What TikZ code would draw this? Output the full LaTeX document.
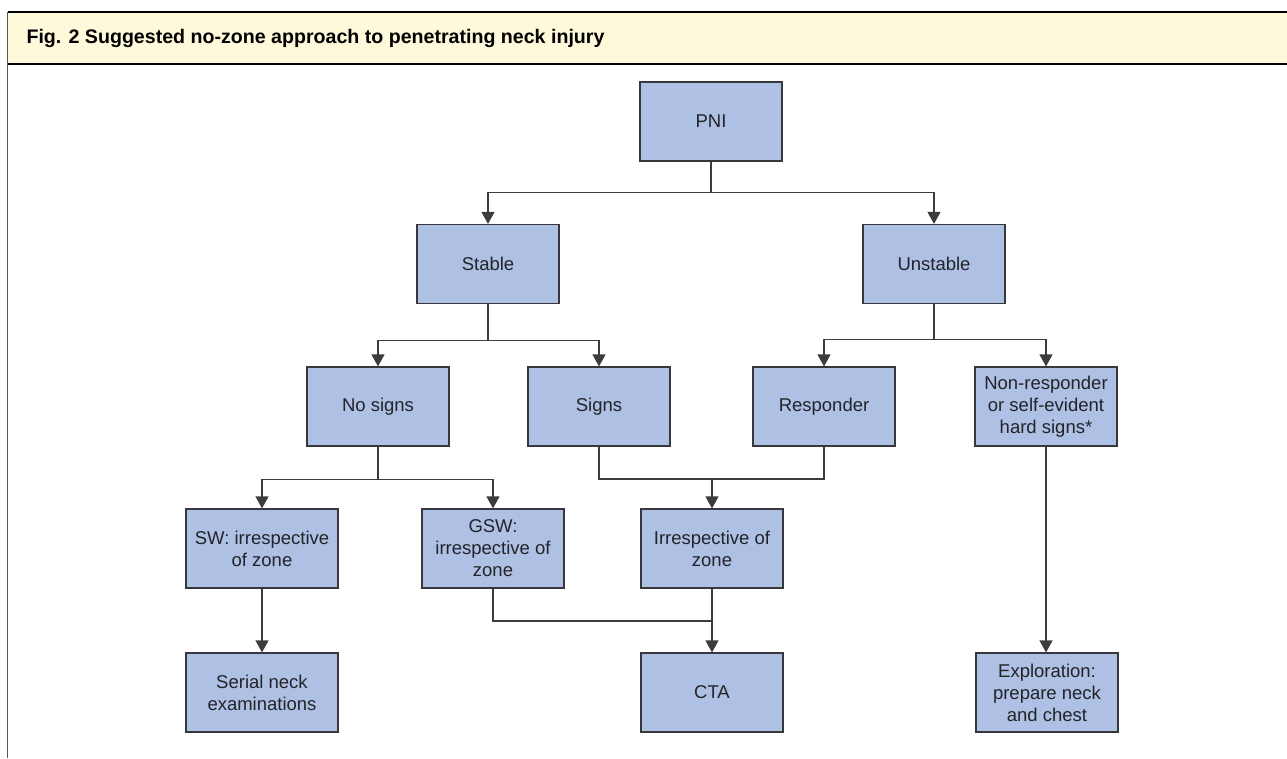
\documentclass[tikz,border=0pt]{standalone}
\usepackage{fontspec}
\setmainfont{Liberation Sans}
\usepackage{tikz}
\usetikzlibrary{arrows.meta,positioning,calc}
\definecolor{boxblue}{RGB}{174,192,228}
\definecolor{boxedge}{RGB}{55,55,60}
\definecolor{linegray}{RGB}{60,60,60}
\definecolor{headfill}{RGB}{255,249,219}
\definecolor{textdark}{RGB}{35,35,40}
\tikzset{
  box/.style={draw=boxedge,fill=boxblue,line width=1.2pt,minimum width=142pt,minimum height=79pt,
    inner sep=0pt,align=center,text=textdark,font=\fontsize{18.5}{22}\selectfont},
  widebox/.style={box,minimum width=152pt},
  link/.style={draw=linegray,line width=1.2pt},
  arr/.style={link,-{Triangle[width=13pt,length=12pt]}}
}

\begin{document}
\begin{tikzpicture}[x=1pt,y=-1pt]
    \useasboundingbox (0,0) rectangle (1287,758);
    % frame and header
    \fill[headfill] (8,12) rectangle (1287,64);
    \draw[black,line width=1.5pt] (8,12) -- (1287,12);
    \draw[black,line width=1.5pt] (8,64) -- (1287,64);
    \draw[gray!70!black,line width=1.6pt] (7.5,12) -- (7.5,758);
    \node[anchor=west,font=\fontsize{19.6}{23}\selectfont\bfseries] (title) at (23,38)
      {Fig. 2 Suggested no-zone approach to penetrating neck injury};
    % boxes
    \node[box] (pni) at (711,121.5) {PNI};
    \node[box] (stable) at (488,264) {Stable};
    \node[box] (unstable) at (934,264) {Unstable};
    \node[box] (nosigns) at (378,406.5) {No signs};
    \node[box] (signs) at (599,406.5) {Signs};
    \node[box] (resp) at (824,406.5) {Responder};
    \node[box] (nonresp) at (1046,406.5) {Non-responder\\or self-evident\\hard signs*};
    \node[widebox] (sw) at (262,548.5) {SW: irrespective\\of zone};
    \node[box] (gsw) at (493,548.5) {GSW:\\irrespective of\\zone};
    \node[box] (irr) at (712,548.5) {Irrespective of\\zone};
    \node[widebox] (serial) at (262,692.5) {Serial neck\\examinations};
    \node[box] (cta) at (712,692.5) {CTA};
    \node[box] (explore) at (1047,692.5) {Exploration:\\prepare neck\\and chest};
    % junctions
    \coordinate (jsigns) at (712,479);
    \coordinate (jgsw) at (712,621);
    % connectors
    \draw[arr] (pni.south) -- ++(0,31) -| (stable.north);
    \draw[arr] (pni.south) -- ++(0,31) -| (unstable.north);
    \draw[arr] (stable.south) -- ++(0,36) -| (nosigns.north);
    \draw[arr] (stable.south) -- ++(0,36) -| (signs.north);
    \draw[arr] (unstable.south) -- ++(0,35) -| (resp.north);
    \draw[arr] (unstable.south) -- ++(0,35) -| (nonresp.north);
    \draw[arr] (nosigns.south) -- ++(0,33) -| (sw.north);
    \draw[arr] (nosigns.south) -- ++(0,33) -| (gsw.north);
    \draw[link] (signs.south) |- (jsigns) -| (resp.south);
    \draw[arr] (jsigns) -- (irr.north);
    \draw[arr] (sw) -- (serial);
    \draw[link] (gsw.south) |- (jgsw);
    \draw[arr] (irr) -- (cta);
    \draw[arr] (nonresp.south) -- (nonresp.south |- explore.north);
  \end{tikzpicture}
\end{document}
